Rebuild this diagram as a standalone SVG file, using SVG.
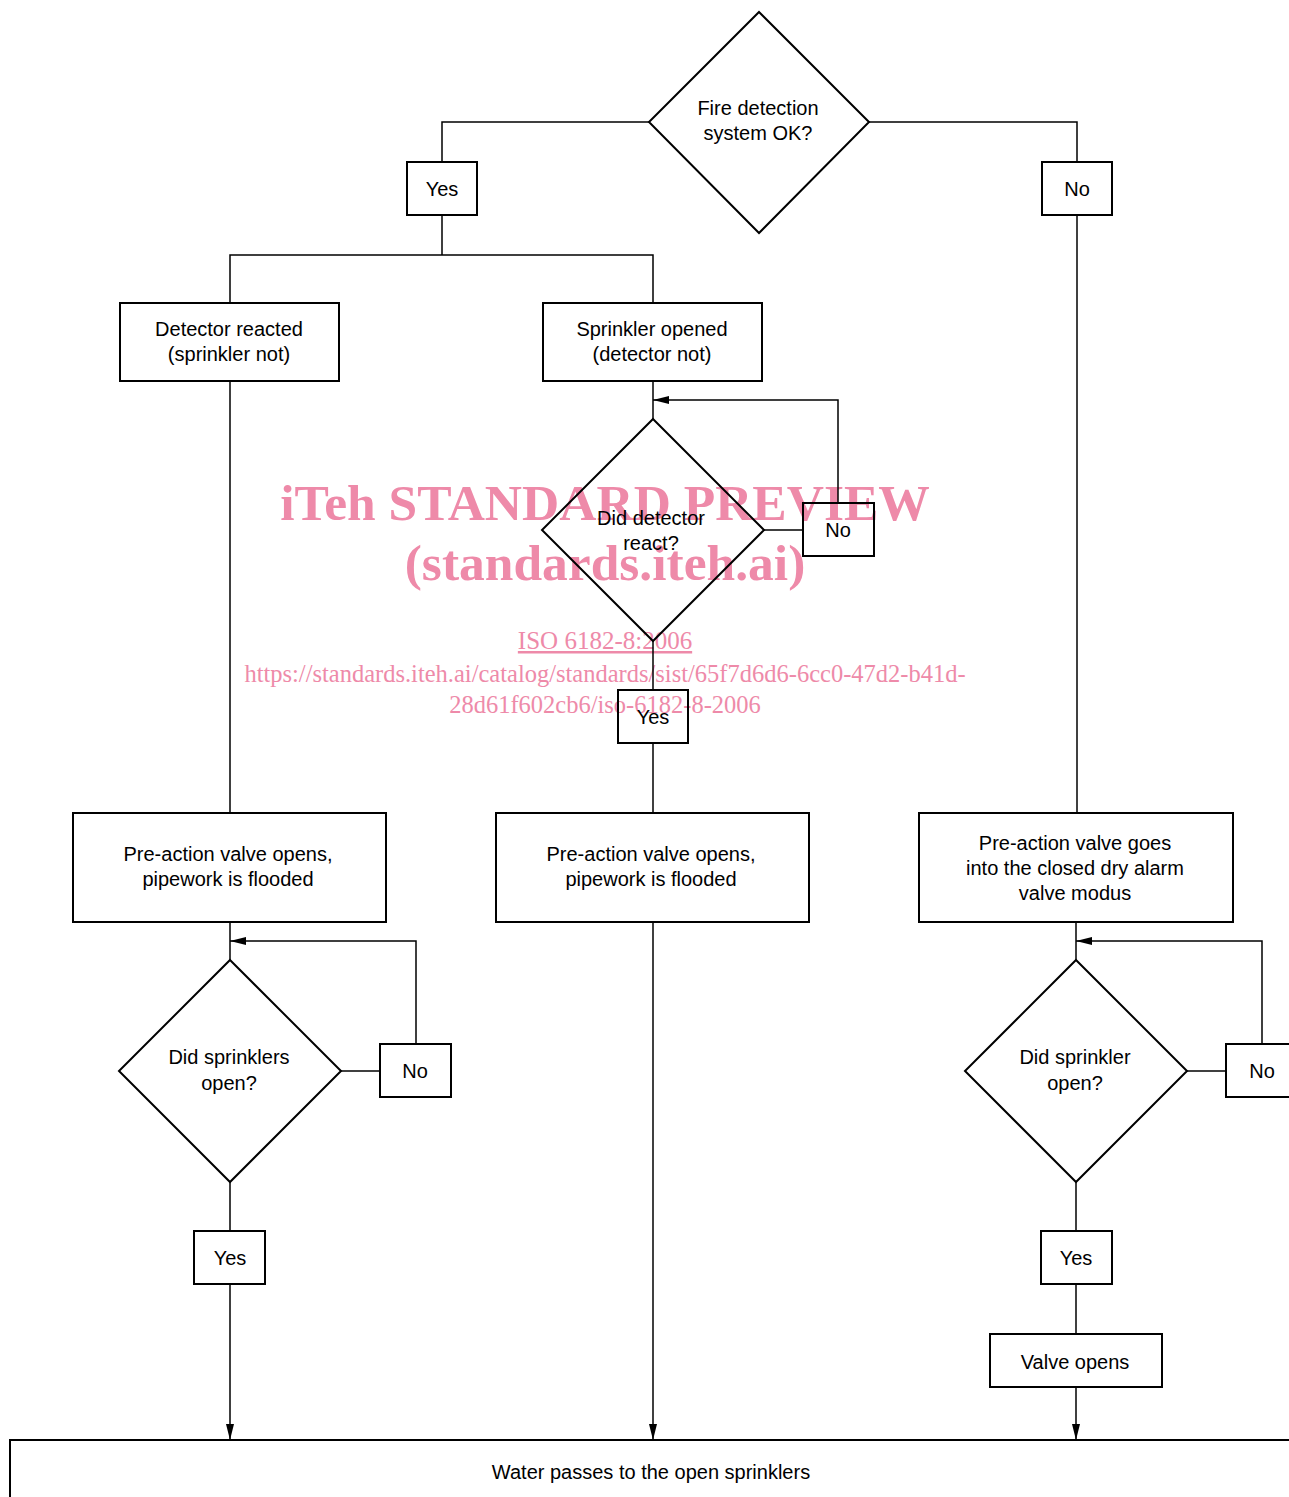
<svg xmlns="http://www.w3.org/2000/svg" width="1289" height="1497" viewBox="0 0 1289 1497">
<style>
.wm{font-family:"Liberation Serif","Times New Roman",serif;fill:#ee8aa9;text-anchor:middle}
.b{fill:none;stroke:#000;stroke-width:2}
.c{fill:none;stroke:#000;stroke-width:1.5}
.t{font-family:"Liberation Sans",Arial,sans-serif;font-size:20px;fill:#000;text-anchor:middle}
</style>
<defs>
<marker id="ah" viewBox="0 0 16 8" refX="16" refY="4" markerWidth="16" markerHeight="8" markerUnits="userSpaceOnUse" orient="auto">
<path d="M0,0 L16,4 L0,8 z" fill="#000"/>
</marker>
</defs>
<rect width="1289" height="1497" fill="#fff"/>
<g id="watermark">
<text class="wm" x="605" y="520" font-size="51.5" font-weight="bold">iTeh STANDARD PREVIEW</text>
<text class="wm" x="605" y="580" font-size="51.5" font-weight="bold">(standards.iteh.ai)</text>
<text class="wm" x="605" y="649" font-size="25" text-decoration="underline">ISO 6182-8:2006</text>
<text class="wm" x="605" y="682" font-size="24.5">https://standards.iteh.ai/catalog/standards/sist/65f7d6d6-6cc0-47d2-b41d-</text>
<text class="wm" x="605" y="713" font-size="24.5">28d61f602cb6/iso-6182-8-2006</text>
</g>
<g id="connectors">
<path class="c" d="M649,122 H442 V162"/>
<path class="c" d="M869,122 H1077 V162"/>
<path class="c" d="M442,215 V255 M230,303 V255 H653 V303"/>
<path class="c" d="M1077,215 V813"/>
<path class="c" d="M230,381 V813"/>
<path class="c" d="M653,381 V419"/>
<path class="c" d="M838,503 V400 H653" marker-end="url(#ah)"/>
<path class="c" d="M764,530 H803"/>
<path class="c" d="M653,641 V690"/>
<path class="c" d="M653,743 V813"/>
<path class="c" d="M230,922 V960"/>
<path class="c" d="M416,1044 V941 H230" marker-end="url(#ah)"/>
<path class="c" d="M341,1071 H380"/>
<path class="c" d="M230,1182 V1231"/>
<path class="c" d="M230,1284 V1440" marker-end="url(#ah)"/>
<path class="c" d="M653,922 V1440" marker-end="url(#ah)"/>
<path class="c" d="M1076,922 V960"/>
<path class="c" d="M1262,1044 V941 H1076" marker-end="url(#ah)"/>
<path class="c" d="M1187,1071 H1226"/>
<path class="c" d="M1076,1182 V1231"/>
<path class="c" d="M1076,1284 V1334"/>
<path class="c" d="M1076,1387 V1440" marker-end="url(#ah)"/>
</g>
<g id="n-fire">
<path class="b" d="M759,12 L869,122 L759,233 L649,122 z"/>
<text class="t" x="758" y="115">Fire detection</text>
<text class="t" x="758" y="140">system OK?</text>
</g>
<g id="n-yes1"><rect class="b" x="407" y="162" width="70" height="53"/><text class="t" x="442" y="196">Yes</text></g>
<g id="n-no1"><rect class="b" x="1042" y="162" width="70" height="53"/><text class="t" x="1077" y="196">No</text></g>
<g id="n-detector">
<rect class="b" x="120" y="303" width="219" height="78"/>
<text class="t" x="229" y="336">Detector reacted</text>
<text class="t" x="229" y="361">(sprinkler not)</text>
</g>
<g id="n-sprinkler">
<rect class="b" x="543" y="303" width="219" height="78"/>
<text class="t" x="652" y="336">Sprinkler opened</text>
<text class="t" x="652" y="361">(detector not)</text>
</g>
<g id="n-diddetector">
<path class="b" d="M653,419 L764,530 L653,641 L542,530 z"/>
<text class="t" x="651" y="525">Did detector</text>
<text class="t" x="651" y="550">react?</text>
</g>
<g id="n-no2"><rect class="b" x="803" y="503" width="71" height="53"/><text class="t" x="838" y="537">No</text></g>
<g id="n-yes2"><rect class="b" x="618" y="690" width="70" height="53"/><text class="t" x="653" y="724">Yes</text></g>
<g id="n-pre1">
<rect class="b" x="73" y="813" width="313" height="109"/>
<text class="t" x="228" y="861">Pre-action valve opens,</text>
<text class="t" x="228" y="886">pipework is flooded</text>
</g>
<g id="n-pre2">
<rect class="b" x="496" y="813" width="313" height="109"/>
<text class="t" x="651" y="861">Pre-action valve opens,</text>
<text class="t" x="651" y="886">pipework is flooded</text>
</g>
<g id="n-pre3">
<rect class="b" x="919" y="813" width="314" height="109"/>
<text class="t" x="1075" y="850">Pre-action valve goes</text>
<text class="t" x="1075" y="875">into the closed dry alarm</text>
<text class="t" x="1075" y="900">valve modus</text>
</g>
<g id="n-didspr1">
<path class="b" d="M230,960 L341,1071 L230,1182 L119,1071 z"/>
<text class="t" x="229" y="1064">Did sprinklers</text>
<text class="t" x="229" y="1090">open?</text>
</g>
<g id="n-no3"><rect class="b" x="380" y="1044" width="71" height="53"/><text class="t" x="415" y="1078">No</text></g>
<g id="n-yes3"><rect class="b" x="194" y="1231" width="71" height="53"/><text class="t" x="230" y="1265">Yes</text></g>
<g id="n-didspr2">
<path class="b" d="M1076,960 L1187,1071 L1076,1182 L965,1071 z"/>
<text class="t" x="1075" y="1064">Did sprinkler</text>
<text class="t" x="1075" y="1090">open?</text>
</g>
<g id="n-no4"><rect class="b" x="1226" y="1044" width="71" height="53"/><text class="t" x="1262" y="1078">No</text></g>
<g id="n-yes4"><rect class="b" x="1041" y="1231" width="71" height="53"/><text class="t" x="1076" y="1265">Yes</text></g>
<g id="n-valve">
<rect class="b" x="990" y="1334" width="172" height="53"/>
<text class="t" x="1075" y="1369">Valve opens</text>
</g>
<g id="n-water">
<rect class="b" x="10" y="1440" width="1300" height="80"/>
<text class="t" x="651" y="1479">Water passes to the open sprinklers</text>
</g>
</svg>
